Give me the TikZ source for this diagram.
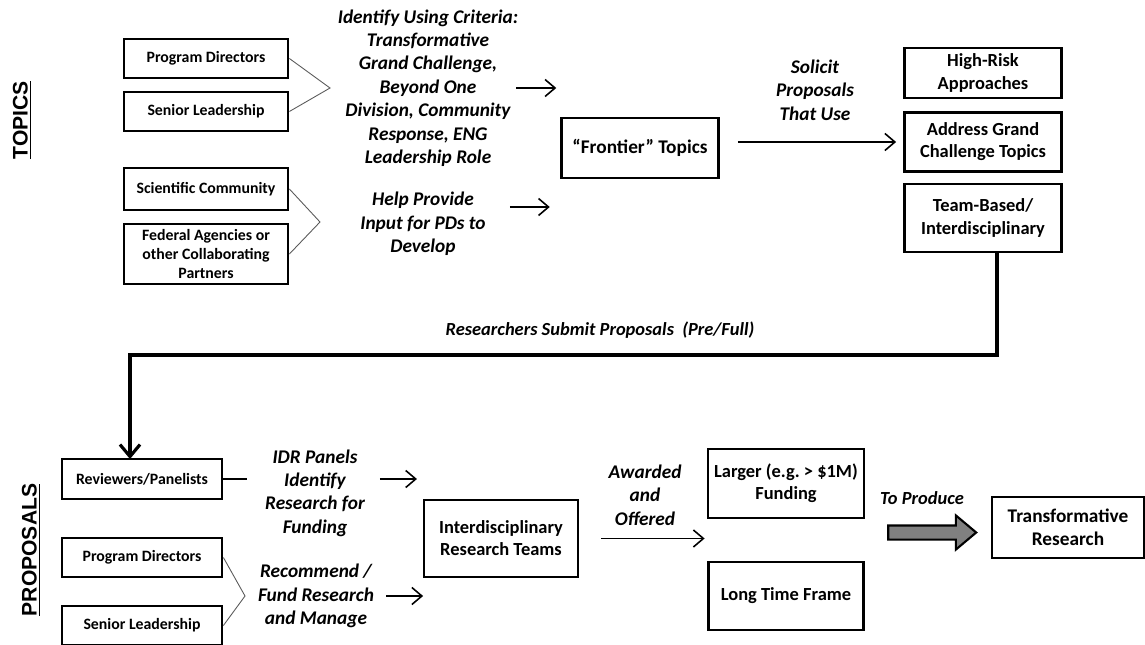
\documentclass[tikz,border=0pt]{standalone}
\usepackage{fontspec}
\setmainfont{Carlito}
\newfontfamily\headfont{Liberation Sans}
\usetikzlibrary{arrows.meta, shapes.arrows}

\begin{document}
\begin{tikzpicture}[
    x=0.02cm, y=-0.02cm,
    smallbox/.style={rectangle, draw=black, line width=1.6pt, minimum width=3.28cm, minimum height=0.78cm, align=center, inner sep=1pt, font=\fontsize{9}{10.8}\selectfont\bfseries},
    bigbox/.style={rectangle, draw=black, line width=1.6pt, minimum width=3.14cm, align=center, inner sep=1pt, font=\fontsize{10.5}{12.6}\selectfont\bfseries},
    note/.style={align=center, inner sep=1pt, font=\fontsize{11}{13.3}\selectfont\bfseries\itshape},
    flow/.style={-{Straight Barb[length=2mm, width=3.4mm]}, line width=0.9pt},
    bigflow/.style={-{Straight Barb[length=2.4mm, width=4mm]}, line width=1.8pt},
    brace/.style={draw=black!65, line width=0.5pt},
    side/.style={rotate=90, inner sep=1pt, font=\headfont\fontsize{12}{14}\selectfont\bfseries}
]
\useasboundingbox (0,0) rectangle (1145,645);

% ============== TOPICS ==============
\node[side] (topics) at (22,120) {\underline{TOPICS}};

\node[smallbox] (pd1) at (206,58.5)  {Program Directors};
\node[smallbox] (sl1) at (206,111.5) {Senior Leadership};
\node[smallbox, minimum height=0.84cm] (sc)  at (206,189) {Scientific Community};
\node[smallbox, minimum height=1.2cm]  (fed) at (206,254) {Federal Agencies or\\other Collaborating\\Partners};

\coordinate (j1) at (330,88);
\coordinate (j2) at (320,222);
\draw[brace] (pd1.east) -- (j1) -- (sl1.east);
\draw[brace] (sc.east)  -- (j2) -- (fed.east);

\node[note] (crit) at (428,88) {Identify Using Criteria:\\Transformative\\Grand Challenge,\\Beyond One\\Division, Community\\Response, ENG\\Leadership Role};
\node[note] (help) at (423,224) {Help Provide\\Input for PDs to\\Develop};

\draw[flow] ([xshift=-0.08cm]crit.east) -- ++(40,0);
\draw[flow, shorten <=0.44cm] (help.east |- 0,207) -- ++(62,0);

\node[bigbox, minimum height=1.2cm, font=\fontsize{11}{13}\selectfont\bfseries] (front) at (640,148) {``Frontier'' Topics};

\node[note] (sol) at (815,90) {Solicit\\Proposals\\That Use};

\node[bigbox, minimum height=1.0cm]  (risk) at (983,73)  {High-Risk\\Approaches};
\node[bigbox, minimum height=1.18cm] (addr) at (983,142) {Address Grand\\Challenge Topics};
\node[bigbox, minimum height=1.36cm] (team) at (983,218) {Team-Based/\\Interdisciplinary};

\draw[flow, shorten <=0.36cm, shorten >=0.14cm] (front.east |- addr.west) -- (addr.west);

% ============== Submit ==============
\coordinate (turn) at (130,355);
\draw[bigflow] ([xshift=0.28cm]team.south) |- (turn) -- (130,459);
\node[note, font=\fontsize{10.5}{13}\selectfont\bfseries\itshape] (sub) at (600,330) {Researchers Submit Proposals~ (Pre/Full)};

% ============== PROPOSALS ==============
\node[side] (props) at (31,550) {\underline{PROPOSALS}};

\node[smallbox, minimum width=3.2cm, minimum height=0.8cm] (rev) at (142,479)   {Reviewers/Panelists};
\node[smallbox, minimum width=3.2cm] (pd2) at (142,557.5) {Program Directors};
\node[smallbox, minimum width=3.2cm] (sl2) at (142,625.5) {Senior Leadership};

\coordinate (j3) at (245,596);
\draw[line width=0.9pt] (rev.east) -- ++(24,0);
\draw[brace] (pd2.east) -- (j3) -- (sl2.east);

\node[note] (idr) at (315,493) {IDR Panels\\Identify\\Research for\\Funding};
\node[note] (rec) at (316,596) {Recommend /\\Fund Research\\and Manage};

\draw[flow, shorten <=0.26cm] (idr.east |- rev.east) -- ++(50,0);
\draw[flow, shorten <=0.2cm] (rec.east) -- ++(47,0);

\node[bigbox, minimum width=3.08cm, minimum height=1.54cm] (idt) at (501,538.5) {Interdisciplinary\\Research Teams};

\node[note] (awd) at (645,495) {Awarded\\and\\Offered};

\node[bigbox, minimum width=3.12cm, minimum height=1.38cm] (big)  at (786,483.5) {Larger (e.g.\ > \$1M)\\Funding};
\node[bigbox, minimum width=3.1cm, minimum height=1.36cm]  (long) at (786,596)   {Long Time Frame};

\draw[flow, shorten <=0.44cm, shorten >=0.04cm] (idt.east) -- (idt.east -| big.west);

\node[note, font=\fontsize{10.5}{13}\selectfont\bfseries\itshape] (prod) at (922,498) {To Produce};
\node[single arrow, draw=black, line width=1.2pt, fill=black!50, minimum height=1.76cm, minimum width=0.68cm, inner sep=0.12cm, single arrow head extend=0.2cm, single arrow tip angle=80] (fat) at (928,532.5) {};

\node[bigbox, minimum width=3.04cm, minimum height=1.22cm, font=\fontsize{11}{13}\selectfont\bfseries] (trans) at (1068,527.5) {Transformative\\Research};
\end{tikzpicture}
\end{document}
